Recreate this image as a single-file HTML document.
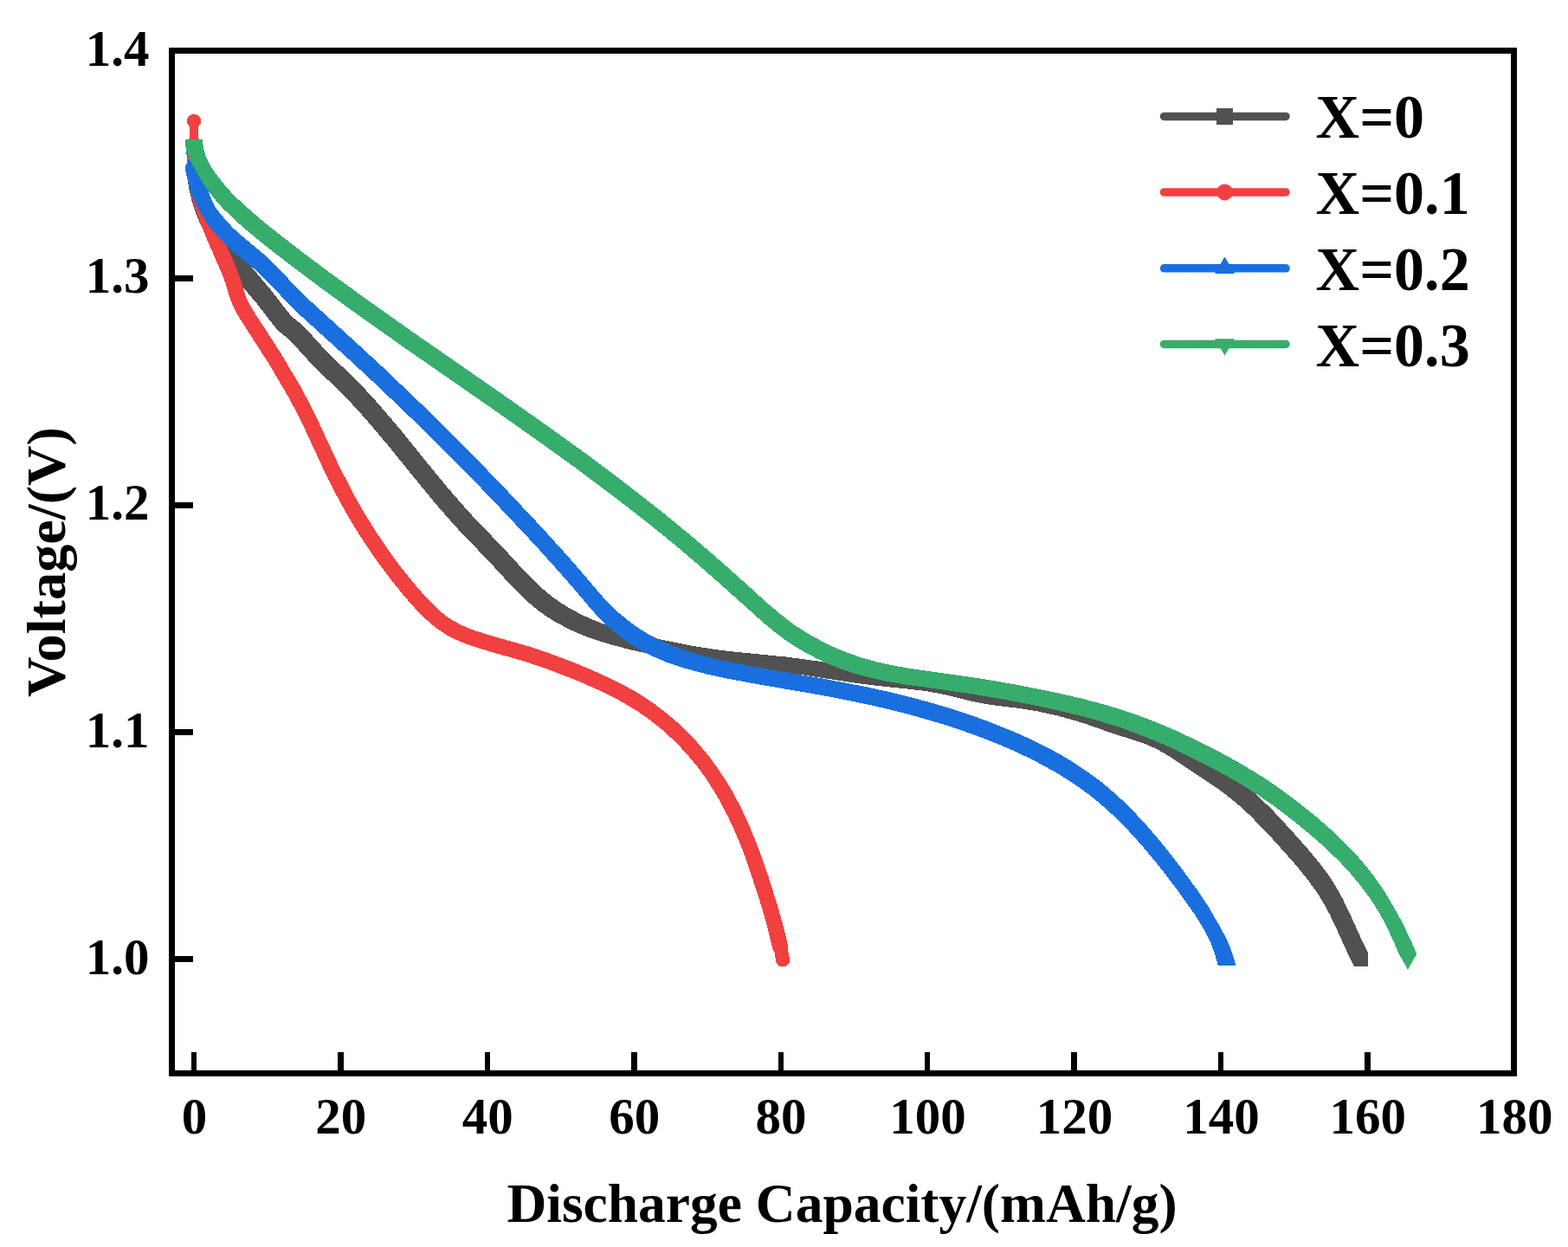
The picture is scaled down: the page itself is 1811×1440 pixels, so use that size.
<!DOCTYPE html>
<html lang="en"><head><meta charset="utf-8"><title>Discharge curves</title>
<style>
html,body{margin:0;padding:0;background:#fff;}
body{width:1811px;height:1440px;overflow:hidden;}
svg{display:block;}
text{font-family:"Liberation Serif","Times New Roman",serif;font-weight:bold;fill:#000;}
</style></head>
<body>
<svg width="1811" height="1440" viewBox="0 0 1811 1440">
<rect x="0" y="0" width="1811" height="1440" fill="#fff"/>
<g shape-rendering="crispEdges">
<path fill="#515151" d="M216.0,190.0 217.1,210.0 217.9,215.9 221.5,231.6 225.1,243.1 230.3,256.1 238.2,272.3 247.3,287.9 258.6,304.4 269.6,318.7 296.8,350.8 315.2,374.6 319.0,379.2 323.3,383.5 329.6,388.4 337.0,395.2 359.9,420.4 366.9,427.5 393.0,452.3 405.5,465.3 420.4,481.6 446.4,512.1 484.2,558.8 500.8,578.9 515.2,595.6 529.9,612.0 567.4,651.0 586.3,671.7 601.6,687.5 608.9,694.4 616.5,700.9 622.8,705.8 631.0,711.6 641.2,718.0 655.3,725.6 666.2,730.7 681.1,736.6 694.4,741.0 709.8,745.5 729.2,750.5 750.7,755.3 780.2,761.2 811.8,766.3 829.7,768.4 893.5,774.7 927.2,779.3 990.6,789.1 1008.5,791.4 1052.3,796.0 1070.2,798.2 1091.9,802.2 1123.0,809.9 1134.8,812.4 1146.6,814.2 1178.4,818.1 1198.2,821.4 1221.7,826.5 1244.8,833.0 1254.4,836.1 1286.5,847.4 1317.1,857.0 1326.4,860.6 1337.3,865.7 1349.5,872.7 1407.8,911.6 1417.4,918.8 1428.3,927.6 1437.4,935.5 1446.0,943.9 1465.5,964.0 1493.6,995.3 1508.9,1013.9 1519.6,1028.4 1527.2,1040.2 1535.8,1056.0 1543.6,1072.3 1556.8,1101.5 1564.0,1115.8 1580.0,1115.8 1580.0,1099.8 1572.8,1085.5 1559.6,1056.3 1550.9,1038.2 1543.2,1024.2 1534.5,1010.7 1523.7,996.3 1509.6,979.3 1486.9,954.0 1470.5,936.4 1454.8,920.9 1439.7,907.7 1430.3,900.3 1422.1,894.5 1370.5,859.9 1356.8,851.6 1346.1,846.2 1333.1,841.0 1302.5,831.4 1262.8,817.6 1239.6,811.0 1214.2,805.4 1194.4,802.1 1162.6,798.2 1150.8,796.4 1139.0,793.9 1107.9,786.2 1086.2,782.2 1068.3,780.0 1024.5,775.4 1006.6,773.1 943.2,763.3 909.5,758.7 845.7,752.4 827.8,750.3 796.2,745.2 764.7,738.9 745.2,734.5 725.8,729.5 708.5,724.4 695.2,719.9 682.2,714.7 671.3,709.6 657.2,702.0 647.0,695.6 638.8,689.8 632.5,684.9 624.9,678.4 617.6,671.5 602.3,655.7 583.4,635.0 545.9,596.0 531.2,579.6 516.8,562.9 500.2,542.8 462.4,496.1 436.4,465.6 421.5,449.3 409.0,436.3 382.9,411.5 375.9,404.4 353.0,379.2 345.6,372.4 339.3,367.5 335.0,363.2 331.2,358.6 312.8,334.8 283.1,299.6 272.3,285.2 265.5,275.3 260.2,266.8 253.3,254.6 247.1,241.9 244.0,234.6 240.5,225.2 238.0,217.5 233.9,199.9 232.8,190.0 232.0,170.0 216.0,170.0Z"/>
<path fill="#F14040" d="M226.1,132.3 224.0,132.0 221.9,132.3 220.0,133.1 218.3,134.3 217.1,136.0 216.3,137.9 216.0,140.0 216.3,142.1 217.1,144.0 219.2,146.3 219.2,159.7 217.1,162.0 216.3,163.9 216.0,166.0 216.6,180.4 216.0,181.7 215.7,184.0 217.3,202.0 220.8,224.1 223.2,233.8 231.0,256.6 239.3,277.4 256.9,317.4 261.0,328.8 264.3,340.3 266.9,347.9 270.2,355.6 275.9,366.2 309.5,418.4 331.0,454.6 341.4,474.0 351.3,493.8 374.9,544.7 389.4,573.3 397.0,587.4 408.1,606.4 418.8,623.4 430.0,640.0 441.6,656.3 454.0,672.5 466.7,688.0 477.2,700.1 486.9,710.3 495.7,718.5 505.3,726.3 513.6,731.9 518.8,734.9 526.0,738.4 537.4,743.3 544.9,746.0 564.1,751.9 604.6,763.3 619.8,768.3 636.8,774.4 670.9,787.7 697.5,799.6 711.8,806.9 722.3,812.8 734.3,820.0 744.3,826.8 752.1,832.5 764.6,842.5 772.1,849.2 782.2,858.9 791.8,869.1 800.9,879.8 805.8,885.7 814.0,897.1 821.7,908.8 829.0,920.8 833.9,929.6 841.2,943.8 848.8,960.2 856.4,978.4 861.3,991.5 869.1,1014.2 878.3,1042.9 885.6,1067.9 892.3,1095.1 893.2,1097.3 894.1,1098.4 896.5,1110.6 897.3,1112.5 898.5,1114.2 900.2,1115.4 902.1,1116.2 904.2,1116.5 906.3,1116.2 908.2,1115.4 909.9,1114.2 911.1,1112.5 911.9,1110.6 912.2,1108.5 909.7,1095.1 910.0,1092.8 909.7,1090.5 905.1,1071.0 896.8,1042.0 887.2,1011.5 877.3,983.1 870.7,966.3 863.6,949.4 855.9,933.0 847.6,917.0 839.4,903.2 830.7,889.8 820.2,875.1 808.5,860.9 799.1,850.5 787.7,839.2 780.3,832.4 769.6,823.5 756.6,813.5 745.0,805.5 734.8,799.2 722.6,792.3 708.3,784.9 679.1,771.8 660.2,764.1 641.5,757.0 624.5,750.9 609.2,746.0 568.7,734.5 549.6,728.6 540.5,725.2 533.2,722.0 522.6,716.3 514.3,710.7 508.4,705.8 499.7,697.5 490.0,687.4 479.4,675.3 466.8,659.8 456.0,645.7 445.6,631.0 434.4,614.4 423.7,597.4 412.6,578.4 405.0,564.3 390.5,535.7 366.8,484.8 357.0,465.0 346.6,445.6 325.1,409.4 312.2,389.1 293.6,360.6 288.5,351.9 284.4,343.6 281.7,335.7 278.3,324.1 275.0,314.7 270.4,303.2 255.7,270.2 250.6,257.6 245.0,242.5 239.5,225.3 237.5,215.6 235.3,202.0 233.7,184.0 233.4,181.7 232.5,179.6 231.7,163.9 230.9,162.0 228.8,159.7 228.8,146.3 230.9,144.0 231.7,142.1 232.0,140.0 231.7,137.9 230.9,136.0 229.7,134.3 228.0,133.1Z"/>
<path fill="#1A6FDF" d="M215.6,203.8 218.0,213.5 221.0,223.1 224.7,232.3 229.2,241.3 234.3,250.1 240.8,260.1 245.7,266.4 255.1,277.0 266.6,288.1 292.8,309.8 300.3,316.4 313.1,329.2 332.1,349.8 343.5,361.0 404.3,416.2 432.3,442.1 475.7,483.6 505.7,513.0 546.6,554.3 568.9,577.3 617.0,628.4 645.2,659.6 663.6,680.7 681.7,702.2 691.1,712.5 696.8,718.2 704.1,725.1 718.1,736.5 726.2,742.3 732.9,746.7 741.6,751.7 748.7,755.4 759.6,760.4 768.9,764.3 789.7,771.4 816.8,778.6 838.3,783.3 877.7,790.6 935.0,800.4 968.5,806.5 1009.7,815.1 1050.5,825.1 1089.0,836.3 1111.8,843.8 1132.5,851.3 1154.9,860.2 1169.6,866.5 1187.8,875.0 1203.8,883.2 1219.5,892.0 1233.2,900.4 1244.8,908.2 1257.8,917.7 1268.7,926.4 1280.8,936.9 1299.5,955.1 1318.4,975.8 1338.9,1000.4 1358.4,1025.9 1379.4,1055.2 1389.9,1072.2 1398.1,1088.3 1403.0,1101.4 1406.8,1114.9 1427.2,1114.9 1425.2,1107.1 1422.8,1099.5 1420.0,1092.0 1417.6,1086.5 1410.3,1072.2 1395.0,1045.9 1383.9,1029.3 1366.2,1005.0 1351.6,985.9 1336.4,967.2 1323.3,952.1 1309.7,937.4 1295.4,923.3 1282.0,911.3 1271.2,902.4 1255.0,890.5 1238.3,879.5 1224.5,871.3 1212.3,864.5 1198.0,857.3 1183.4,850.5 1166.9,843.3 1137.1,831.5 1118.2,824.8 1095.4,817.4 1070.4,810.1 1053.0,805.4 1027.7,799.2 998.3,792.8 949.1,783.4 891.9,773.6 852.5,766.4 828.9,761.4 809.5,756.5 798.0,753.1 784.7,748.7 775.3,745.1 764.3,740.2 755.3,735.9 746.6,731.0 736.4,724.6 728.3,718.8 714.3,707.4 707.0,700.5 701.3,694.8 691.9,684.5 673.8,663.0 655.4,641.9 627.2,610.7 579.1,559.6 556.8,536.6 515.9,495.3 485.9,465.9 442.5,424.4 414.5,398.5 353.7,343.3 342.3,332.1 323.3,311.5 312.0,300.1 303.0,292.1 276.8,270.4 269.5,263.6 262.5,256.3 254.7,247.2 249.9,240.8 247.3,236.9 242.8,226.8 240.1,219.3 237.4,209.6 235.2,199.8 234.2,191.9 228.8,182.6 228.8,178.4 234.2,178.4 224.0,160.7 213.8,178.4 219.2,178.4 219.2,182.6 213.8,191.9 214.5,197.9Z"/>
<path fill="#37AD6B" d="M216.7,178.6 220.6,187.6 233.7,210.5 239.4,218.9 249.5,231.6 257.4,240.5 270.4,253.1 285.4,266.4 296.2,275.4 316.6,291.6 342.0,311.1 364.4,327.9 404.8,357.4 470.2,403.7 567.3,471.0 624.6,511.4 666.8,541.8 706.9,571.8 752.7,607.4 782.2,631.5 808.1,653.5 827.7,670.7 881.4,718.8 896.9,731.5 909.8,740.9 921.6,748.5 932.0,754.6 942.6,760.1 955.3,766.1 966.4,770.7 977.7,774.8 989.2,778.4 1002.7,782.1 1024.2,786.8 1042.0,789.9 1121.3,801.1 1164.7,808.6 1194.2,814.3 1229.4,822.0 1250.8,827.3 1272.0,833.2 1300.6,842.4 1330.5,853.9 1345.2,860.2 1363.4,868.6 1397.4,885.5 1420.3,898.0 1435.8,907.2 1454.4,919.0 1470.8,930.4 1491.6,946.1 1510.3,961.2 1528.4,977.0 1545.8,993.6 1558.1,1006.7 1569.7,1020.5 1581.6,1036.6 1590.5,1050.0 1594.4,1056.5 1601.8,1070.7 1610.3,1088.8 1615.8,1101.7 1626.0,1119.4 1636.2,1101.7 1630.7,1088.8 1624.8,1076.1 1618.6,1063.5 1612.9,1052.9 1600.7,1032.3 1593.0,1020.6 1586.0,1010.8 1577.4,999.7 1565.6,986.1 1551.7,971.7 1535.6,956.6 1519.0,942.2 1501.8,928.4 1481.0,912.7 1466.2,902.4 1447.7,890.6 1428.7,879.4 1405.9,866.9 1380.8,854.3 1357.2,843.3 1338.8,835.4 1316.4,826.7 1297.5,820.2 1278.3,814.4 1251.3,807.1 1224.0,800.8 1200.4,795.9 1169.0,789.8 1133.5,783.7 1050.2,771.8 1034.4,769.1 1014.8,764.9 993.6,759.0 974.8,752.2 965.5,748.4 954.6,743.3 937.0,733.9 928.4,728.7 916.7,721.0 902.4,710.1 887.1,697.2 860.4,673.0 825.9,642.4 798.5,618.9 762.9,589.7 715.5,552.9 677.0,524.1 634.8,493.7 577.5,453.3 480.4,386.0 415.0,339.7 374.6,310.2 352.2,293.4 325.2,272.6 304.8,256.4 282.1,236.8 269.0,224.3 260.9,215.4 249.6,201.2 242.9,191.1 240.1,185.8 237.8,180.4 235.3,172.7 234.5,166.8 234.2,160.8 213.8,160.8 214.6,170.8 215.4,174.7Z"/>
</g>
<g fill="#000" shape-rendering="crispEdges">
<rect x="195" y="55" width="1557" height="7"/>
<rect x="195" y="1236" width="1557" height="7"/>
<rect x="195" y="55" width="7" height="1188"/>
<rect x="1745" y="55" width="7" height="1188"/>
<rect x="221" y="1215" width="6" height="22"/>
<rect x="390" y="1215" width="7" height="22"/>
<rect x="560" y="1215" width="6" height="22"/>
<rect x="729" y="1215" width="7" height="22"/>
<rect x="899" y="1215" width="6" height="22"/>
<rect x="1068" y="1215" width="6" height="22"/>
<rect x="1237" y="1215" width="7" height="22"/>
<rect x="1407" y="1215" width="6" height="22"/>
<rect x="1576" y="1215" width="7" height="22"/>
<rect x="201" y="318" width="22" height="7"/>
<rect x="201" y="580" width="22" height="7"/>
<rect x="201" y="842" width="22" height="7"/>
<rect x="201" y="1104" width="22" height="7"/>
</g>
<g font-size="59" text-anchor="middle">
<text x="224.4" y="1309">0</text>
<text x="393.8" y="1309">20</text>
<text x="563.2" y="1309">40</text>
<text x="732.7" y="1309">60</text>
<text x="902.1" y="1309">80</text>
<text x="1071.5" y="1309">100</text>
<text x="1241.0" y="1309">120</text>
<text x="1410.4" y="1309">140</text>
<text x="1579.8" y="1309">160</text>
<text x="1749.2" y="1309">180</text>
</g>
<g font-size="59" text-anchor="end">
<text x="172.5" y="76.2">1.4</text>
<text x="172.5" y="338.3">1.3</text>
<text x="172.5" y="600.4">1.2</text>
<text x="172.5" y="862.5">1.1</text>
<text x="172.5" y="1124.6">1.0</text>
</g>
<text x="972.5" y="1410.5" font-size="63.5" text-anchor="middle">Discharge Capacity/(mAh/g)</text>
<text transform="translate(75,649) rotate(-90) scale(1.0125,1)" font-size="63.5" text-anchor="middle">Voltage/(V)</text>
<g>
<line x1="1344.5" y1="134.4" x2="1485" y2="134.4" stroke="#515151" stroke-width="9.5" stroke-linecap="round"/>
<rect x="1405.0" y="124.9" width="19" height="19" fill="#515151" shape-rendering="crispEdges"/>
<text transform="translate(1519.6,159.1) scale(0.98,1)" font-size="71.5">X=0</text>
<line x1="1344.5" y1="221.9" x2="1485" y2="221.9" stroke="#F14040" stroke-width="9.5" stroke-linecap="round"/>
<circle cx="1414.5" cy="221.9" r="9.5" fill="#F14040"/>
<text transform="translate(1519.6,246.7) scale(0.98,1)" font-size="71.5">X=0.1</text>
<line x1="1344.5" y1="309.8" x2="1485" y2="309.8" stroke="#1A6FDF" stroke-width="9.5" stroke-linecap="round"/>
<polygon points="1403.0,316.0 1426.0,316.0 1414.5,296.6" fill="#1A6FDF"/>
<text transform="translate(1519.6,334.8) scale(0.98,1)" font-size="71.5">X=0.2</text>
<line x1="1344.5" y1="397.4" x2="1485" y2="397.4" stroke="#37AD6B" stroke-width="9.5" stroke-linecap="round"/>
<polygon points="1403.0,391.2 1426.0,391.2 1414.5,410.6" fill="#37AD6B"/>
<text transform="translate(1519.6,422.8) scale(0.98,1)" font-size="71.5">X=0.3</text>
</g>
</svg>
</body></html>
